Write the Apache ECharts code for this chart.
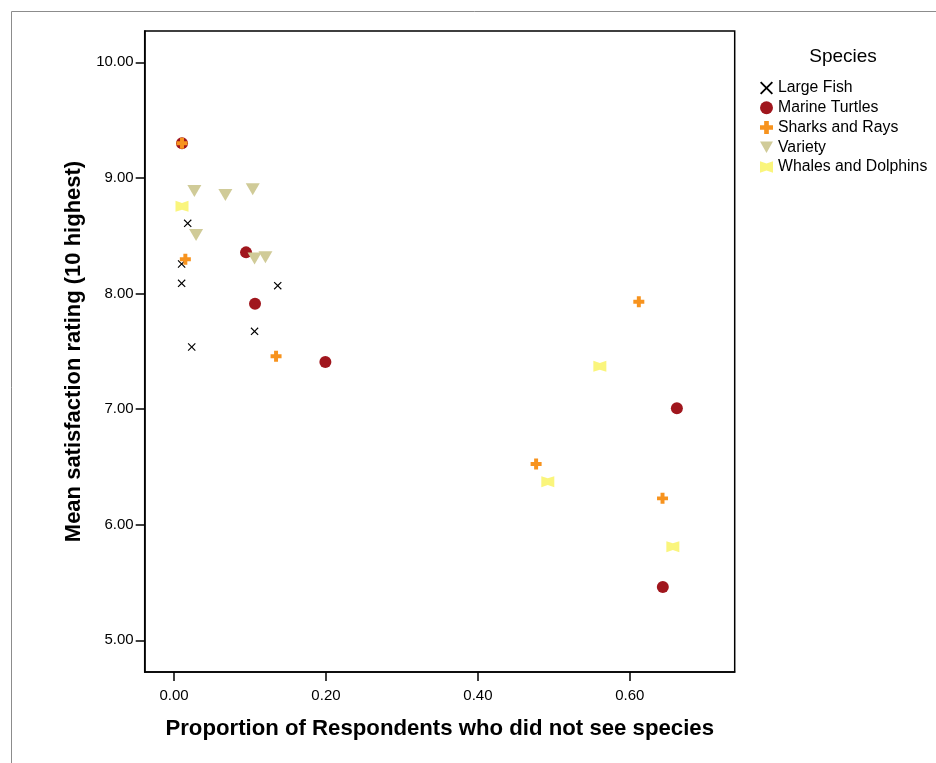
<!DOCTYPE html>
<html>
<head>
<meta charset="utf-8">
<script src="https://cdn.jsdelivr.net/npm/echarts@6/dist/echarts.min.js"></script>
<style>
html,body{margin:0;padding:0;background:#fff;}
#chart{width:936px;height:763px;}
</style>
</head>
<body>
<div id="chart"></div>
<script>
// ---- data ----
var seriesNames = ['Large Fish', 'Marine Turtles', 'Sharks and Rays', 'Variety', 'Whales and Dolphins'];

var fishX = [0.018, 0.010, 0.010, 0.1365, 0.106, 0.0233];
var fishY = [8.607, 8.255, 8.088, 8.068, 7.673, 7.537];

var turtleX = [0.0105, 0.0948, 0.1066, 0.1992, 0.6619, 0.6434];
var turtleY = [9.30, 8.356, 7.912, 7.407, 7.007, 5.461];

var sharkX = [0.0105, 0.0149, 0.1343, 0.6118, 0.4766, 0.643];
var sharkY = [9.30, 8.296, 7.457, 7.929, 6.525, 6.228];

var varietyX = [0.0268, 0.0676, 0.1036, 0.029, 0.106, 0.1203];
var varietyY = [8.887, 8.852, 8.901, 8.506, 8.304, 8.313];

var whaleX = [0.0105, 0.5605, 0.492, 0.6566];
var whaleY = [8.754, 7.37, 6.372, 5.81];

var xTicks = [0, 0.2, 0.4, 0.6];
var yTicks = [5, 6, 7, 8, 9, 10];

var xTitle = 'Proportion of Respondents who did not see species';
var yTitle = 'Mean satisfaction rating (10 highest)';
var legendTitle = 'Species';

function pairs(xs, ys) { return xs.map(function (x, i) { return [x, ys[i]]; }); }

var FONT = '"Liberation Sans", Arial, sans-serif';
var X_PATH = 'path://M0,1 L1,0 L5,4 L9,0 L10,1 L6,5 L10,9 L9,10 L5,6 L1,10 L0,9 L4,5 Z';
var PLUS_PATH = 'path://M3.2,0 L6.8,0 L6.8,3.2 L10,3.2 L10,6.8 L6.8,6.8 L6.8,10 L3.2,10 L3.2,6.8 L0,6.8 L0,3.2 L3.2,3.2 Z';
var TRI_PATH = 'path://M0,0 L10,0 L5,9 Z';
var BOW_PATH = 'path://M0,0 L10,3.5 L20,0 L20,18 L10,14.5 L0,18 Z';

var chart = echarts.init(document.getElementById('chart'), null, {renderer: 'canvas'});

var option = {
  backgroundColor: '#fff',
  animation: false,
  textStyle: {fontFamily: FONT},
  graphic: [
    {type: 'rect', shape: {x: 11.5, y: 11.5, width: 2000, height: 2000},
     style: {fill: 'none', stroke: '#8c8c8c', lineWidth: 1}, z: -10},
    {type: 'text', x: 843, y: 57,
     style: {text: legendTitle, font: '19px ' + FONT, fill: '#000', textAlign: 'center', textVerticalAlign: 'middle'}}
  ],
  grid: {left: 144.7, top: 31, right: 201.3, bottom: 91, show: true, borderColor: '#000', borderWidth: 1.5, backgroundColor: '#fff'},
  legend: {
    orient: 'vertical', left: 755, top: 75,
    itemWidth: 13, itemHeight: 13, itemGap: 3.75,
    data: seriesNames,
    textStyle: {fontSize: 15.8, color: '#000', fontFamily: FONT}
  },
  xAxis: {
    type: 'value', min: -0.0386, max: 0.738,
    name: xTitle, nameLocation: 'middle', nameGap: 46,
    nameTextStyle: {fontSize: 22.2, fontWeight: 'bold', color: '#000', fontFamily: FONT},
    axisLine: {show: true, onZero: false, lineStyle: {color: '#000', width: 1.5}},
    axisTick: {show: true, inside: false, length: 9, customValues: xTicks, lineStyle: {color: '#000', width: 1.5}},
    axisLabel: {customValues: xTicks, margin: 16, fontSize: 15, color: '#000', fontFamily: FONT,
      formatter: function (v) { return v.toFixed(2); }},
    splitLine: {show: false}
  },
  yAxis: {
    type: 'value', min: 4.726, max: 10.271,
    name: yTitle, nameLocation: 'middle', nameGap: 54, nameRotate: 90,
    nameTextStyle: {fontSize: 22, fontWeight: 'bold', color: '#000', fontFamily: FONT},
    axisLine: {show: true, onZero: false, lineStyle: {color: '#000', width: 1.5}},
    axisTick: {show: true, inside: false, length: 9, customValues: yTicks, lineStyle: {color: '#000', width: 1.5}},
    axisLabel: {customValues: yTicks, margin: 11, fontSize: 15, color: '#000', fontFamily: FONT,
      formatter: function (v) { return v.toFixed(2); }},
    splitLine: {show: false}
  },
  series: [
    {name: seriesNames[0], type: 'scatter', symbol: X_PATH, symbolSize: 8,
     itemStyle: {color: '#000', opacity: 1}, data: pairs(fishX, fishY)},
    {name: seriesNames[1], type: 'scatter', symbol: 'circle', symbolSize: 12,
     itemStyle: {color: '#a0161d', opacity: 1}, data: pairs(turtleX, turtleY)},
    {name: seriesNames[2], type: 'scatter', symbol: PLUS_PATH, symbolSize: 11,
     itemStyle: {color: '#f7931e', opacity: 1}, data: pairs(sharkX, sharkY)},
    {name: seriesNames[3], type: 'scatter', symbol: TRI_PATH, symbolSize: [14, 12],
     itemStyle: {color: '#d0cb98', opacity: 1}, data: pairs(varietyX, varietyY)},
    {name: seriesNames[4], type: 'scatter', symbol: BOW_PATH, symbolSize: [13, 11],
     itemStyle: {color: '#faf57c', opacity: 1}, data: pairs(whaleX, whaleY)}
  ]
};
chart.setOption(option);
</script>
</body>
</html>
